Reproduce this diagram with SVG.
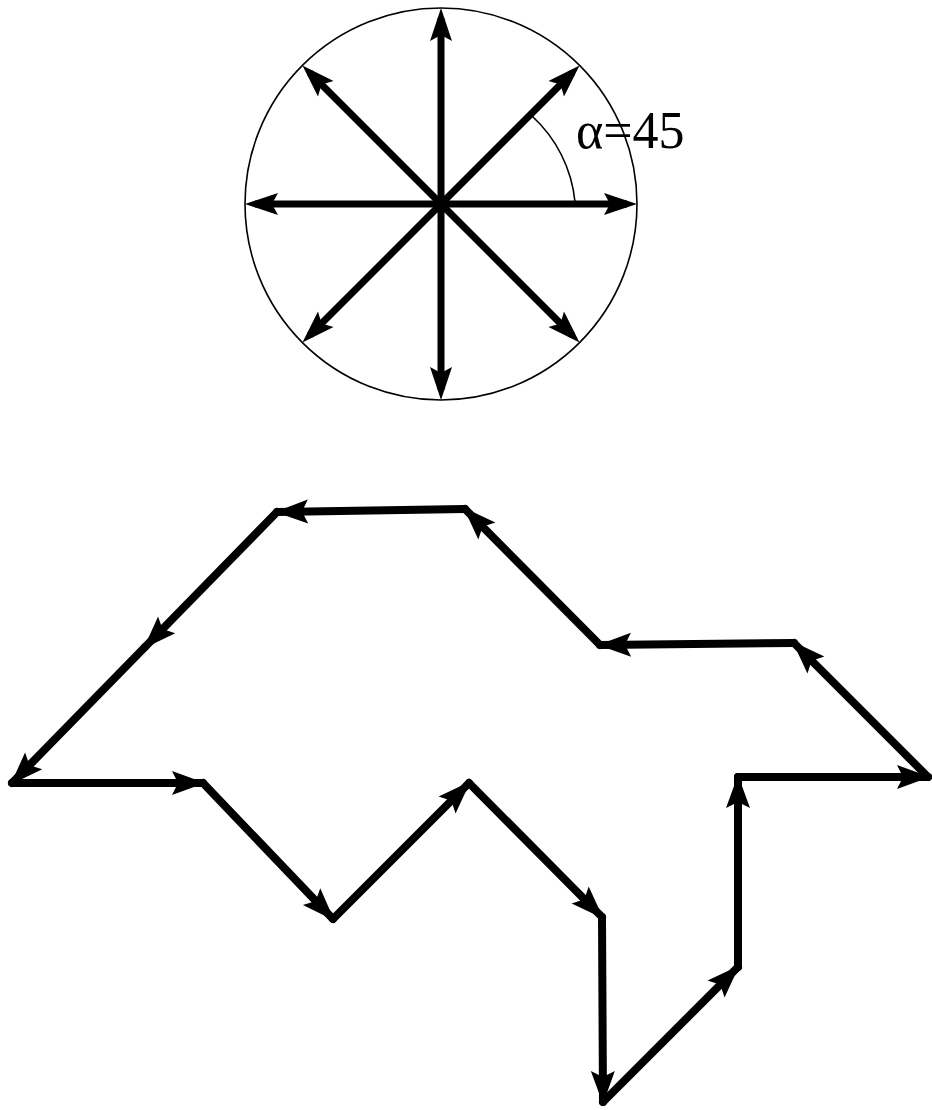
<svg xmlns="http://www.w3.org/2000/svg" width="932" height="1110" viewBox="0 0 932 1110">
<style>
.ax{stroke:#000;stroke-width:7;fill:none;marker-end:url(#ah)}
.pg{stroke:#000;stroke-width:8;fill:none;stroke-linecap:round;marker-end:url(#ah2)}
.thin{stroke:#000;stroke-width:1.6;fill:none}
.lbl{font-family:"Liberation Serif","Times New Roman",serif;font-size:52px;fill:#000}
</style>
<defs>
<marker id="ah" markerUnits="userSpaceOnUse" markerWidth="44" markerHeight="26" viewBox="0 -13 44 26" refX="30" refY="0" orient="auto">
<path d="M40,0 L7,-11 L13,0 L7,11 Z" fill="#000"/>
</marker>
<marker id="ah2" markerUnits="userSpaceOnUse" markerWidth="44" markerHeight="28" viewBox="0 -14 44 28" refX="34" refY="0" orient="auto">
<path d="M36,0 L3,-12 L9,0 L3,12 Z" fill="#000"/>
</marker>
</defs>
<rect width="932" height="1110" fill="#fff"/>
<g id="compass">
<circle class="thin" cx="441" cy="204" r="196"/>
<path class="thin" d="M532,116 A134,134 0 0 1 575,202"/>
<line class="ax" x1="441" y1="204" x2="627" y2="204"/>
<line class="ax" x1="441" y1="204" x2="255" y2="204"/>
<line class="ax" x1="441" y1="204" x2="441" y2="18"/>
<line class="ax" x1="441" y1="204" x2="441" y2="390"/>
<line class="ax" x1="441" y1="204" x2="572.5" y2="72.5"/>
<line class="ax" x1="441" y1="204" x2="309.5" y2="72.5"/>
<line class="ax" x1="441" y1="204" x2="309.5" y2="335.5"/>
<line class="ax" x1="441" y1="204" x2="572.5" y2="335.5"/>
<text class="lbl" x="576" y="148">α=45</text>
</g>
<g id="chain">
<line class="pg" x1="12" y1="783" x2="203" y2="783"/>
<line class="pg" x1="203" y1="783" x2="333" y2="919"/>
<line class="pg" x1="333" y1="919" x2="469" y2="783"/>
<line class="pg" x1="469" y1="783" x2="602" y2="917"/>
<line class="pg" x1="602" y1="917" x2="603" y2="1102"/>
<line class="pg" x1="603" y1="1102" x2="738" y2="967"/>
<line class="pg" x1="738" y1="967" x2="738" y2="777"/>
<line class="pg" x1="738" y1="777" x2="928" y2="777"/>
<line class="pg" x1="928" y1="777" x2="794" y2="643"/>
<line class="pg" x1="794" y1="643" x2="600" y2="645"/>
<line class="pg" x1="600" y1="645" x2="465" y2="509"/>
<line class="pg" x1="465" y1="509" x2="277" y2="512"/>
<line class="pg" x1="277" y1="512" x2="145" y2="647"/>
<line class="pg" x1="145" y1="647" x2="12" y2="783"/>
</g>
</svg>
